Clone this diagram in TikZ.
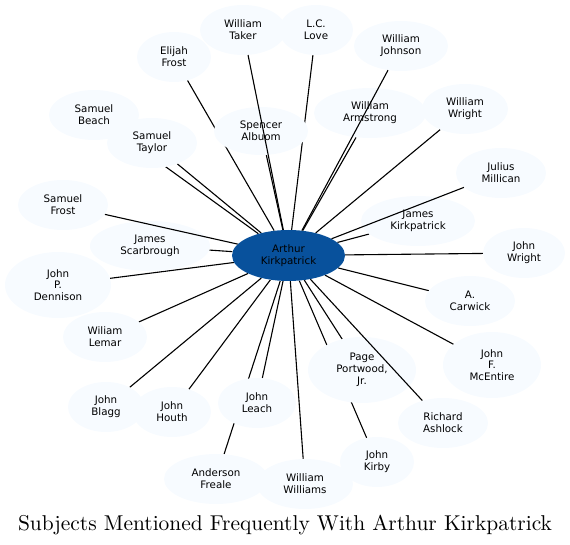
\documentclass[tikz,border=0pt]{standalone}
\usepackage{fontspec}
\usepackage{graphicx}
\usetikzlibrary{shapes.geometric}
\newfontfamily\dejavu{DejaVu Sans}
\definecolor{nodefill}{HTML}{F7FBFF}
\definecolor{centerfill}{HTML}{08519C}
\pgfdeclarelayer{edgesbelow}
\pgfdeclarelayer{edgesabove}
\pgfsetlayers{edgesbelow,main,edgesabove}
\tikzset{
  person/.style={ellipse, fill=nodefill, draw=none, inner sep=0pt, align=center,
    font=\dejavu\fontsize{10.3}{11.8}\selectfont, text=black},
  hub/.style={person, fill=centerfill},
  sz/.style 2 args={minimum width=#1pt, minimum height=#2pt},
  link/.style={draw=black, line width=1.1pt}
}
\begin{document}
\begin{tikzpicture}[x=1pt,y=-1pt]
\useasboundingbox (0,0) rectangle (570,545);
% nodes
\node[person, sz={86}{50}] (taker) at (243,30) {William\\Taker};
\node[person, sz={74}{50}] (love) at (316,30) {L.C.\\Love};
\node[person, sz={74}{50}] (elijah) at (174,57) {Elijah\\Frost};
\node[person, sz={94}{50}] (wjohnson) at (401,46) {William\\Johnson};
\node[person, sz={90}{50}] (beach) at (94,115) {Samuel\\Beach};
\node[person, sz={94}{48}] (spencer) at (261,131) {Spencer\\Albuom};
\node[person, sz={112}{50}] (armstrong) at (370,113) {William\\Armstrong};
\node[person, sz={86}{50}] (wwright) at (465,109) {William\\Wright};
\node[person, sz={90}{50}] (staylor) at (152,143) {Samuel\\Taylor};
\node[person, sz={90}{50}] (julius) at (501,173) {Julius\\Millican};
\node[person, sz={90}{50}] (sfrost) at (63,205) {Samuel\\Frost};
\node[person, sz={114}{50}] (jkirk) at (418,221) {James\\Kirkpatrick};
\node[person, sz={120}{50}] (scarb) at (150,246) {James\\Scarbrough};
\node[person, sz={82}{50}] (jwright) at (524,253) {John\\Wright};
\node[person, sz={106}{66}] (dennison) at (58,285) {John\\P.\\Dennison};
\node[person, sz={90}{50}] (carwick) at (470,301) {A.\\Carwick};
\node[person, sz={84}{50}] (lemar) at (105,337) {Wiliam\\Lemar};
\node[person, sz={98}{66}] (mcentire) at (492,365) {John\\F.\\McEntire};
\node[person, sz={108}{66}] (page) at (362,370) {Page\\Portwood,\\Jr.};
\node[person, sz={76}{50}] (blagg) at (106,407) {John\\Blagg};
\node[person, sz={78}{50}] (houth) at (172,412) {John\\Houth};
\node[person, sz={78}{50}] (leach) at (257,403) {John\\Leach};
\node[person, sz={90}{50}] (ashlock) at (443,423) {Richard\\Ashlock};
\node[person, sz={74}{50}] (kirby) at (377,462) {John\\Kirby};
\node[person, sz={104}{50}] (anderson) at (216,479) {Anderson\\Freale};
\node[person, sz={96}{50}] (wwilliams) at (305,484) {William\\Williams};
\node[hub, sz={113}{51}] (arthur) at (288.5,255.5) {Arthur\\Kirkpatrick};
% edges hidden behind other nodes
\begin{pgfonlayer}{edgesbelow}
\foreach \n in {love,elijah,beach,spencer,armstrong,wwright,staylor,jkirk,scarb,jwright,dennison,carwick,lemar,mcentire,page,blagg,houth,leach,kirby,anderson,wwilliams}
  \draw[link] (arthur) -- (\n);
\end{pgfonlayer}
% edges drawn over other nodes
\begin{pgfonlayer}{edgesabove}
\foreach \n in {taker,wjohnson,julius,ashlock,sfrost}
  \draw[link] (arthur) -- (\n);
\end{pgfonlayer}
% title
\node[anchor=base, inner sep=0pt] (title) at (285,530) {\resizebox{534pt}{!}{Subjects Mentioned Frequently With Arthur Kirkpatrick}};
\end{tikzpicture}
\end{document}
